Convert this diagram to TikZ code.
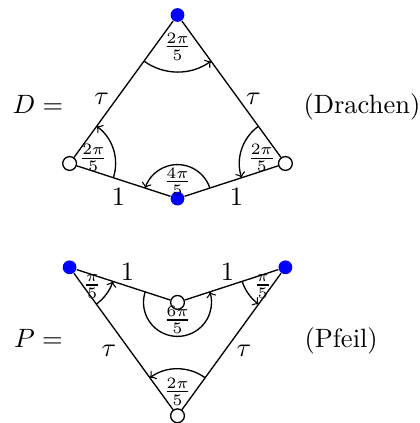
\documentclass[tikz,border=0pt]{standalone}
\usetikzlibrary{calc}
\begin{document}
\begin{tikzpicture}[x=0.3774pt,y=0.3774pt,
  edge/.style={draw=black, line width=0.5pt},
  fv/.style={circle, fill=blue, inner sep=0pt, minimum size=5.2pt},
  ov/.style={circle, draw=black, fill=white, inner sep=0pt, minimum size=5.2pt, line width=0.5pt},
  ang/.style={-{to[scale=1.6]}, line width=0.5pt},
  fr/.style={font=\footnotesize, inner sep=0pt},
  lab/.style={inner sep=0pt}]
\useasboundingbox (0,0) rectangle (419,423);
% ---------- Drachen ----------
\node[fv] (T) at (177.5,408) {};
\node[ov] (L) at (69.6,259.5) {};
\node[ov] (R) at (285.4,259.5) {};
\node[fv] (B) at (177.5,224.4) {};
\draw[edge] (T) -- (L);
\draw[edge] (T) -- (R);
\draw[edge] (L) -- (B);
\draw[edge] (R) -- (B);
\draw[ang] ([shift={(234:57)}]T.center) arc[start angle=234, end angle=306, radius=57];
\draw[ang] ([shift={(-18:46)}]L.center) arc[start angle=-18, end angle=54, radius=46];
\draw[ang] ([shift={(126:46)}]R.center) arc[start angle=126, end angle=198, radius=46];
\draw[ang] ([shift={(18:34)}]B.center) arc[start angle=18, end angle=162, radius=34];
\node[fr] (fT) at (177.5,376.3) {$\frac{2\pi}{5}$};
\node[fr] (fL) at (93.3,264.7) {$\frac{2\pi}{5}$};
\node[fr] (fR) at (261.7,264.7) {$\frac{2\pi}{5}$};
\node[fr] (fB) at (177.5,241.3) {$\frac{4\pi}{5}$};
\node[lab] (tL) at (101.7,324.5) {$\tau$};
\node[lab] (tR) at (253.5,324.5) {$\tau$};
\node[lab] (oL) at (118.5,226.3) {$1$};
\node[lab] (oR) at (236.5,226.3) {$1$};
\node[lab, anchor=base west] (Dname) at (12,309) {$D={}$};
\node[lab, anchor=base west] (Dtext) at (303,309) {(Drachen)};
% ---------- Pfeil ----------
\node[fv] (PL) at (69.6,155.7) {};
\node[fv] (PR) at (285.4,155.7) {};
\node[ov] (M) at (177.5,120.6) {};
\node[ov] (PB) at (177.5,7.2) {};
\draw[edge] (PL) -- (M);
\draw[edge] (PR) -- (M);
\draw[edge] (PL) -- (PB);
\draw[edge] (PR) -- (PB);
\draw[ang] ([shift={(-54:45.5)}]PL.center) arc[start angle=-54, end angle=-18, radius=45.5];
\draw[ang] ([shift={(198:45.5)}]PR.center) arc[start angle=198, end angle=234, radius=45.5];
\draw[ang] ([shift={(162:34)}]M.center) arc[start angle=162, end angle=378, radius=34];
\draw[ang] ([shift={(54:47)}]PB.center) arc[start angle=54, end angle=126, radius=47];
\node[fr] (fPL) at (92.3,136.3) {$\frac{\pi}{5}$};
\node[fr] (fPR) at (262.7,136.3) {$\frac{\pi}{5}$};
\node[fr] (fM) at (177.5,103) {$\frac{6\pi}{5}$};
\node[fr] (fPB) at (177.5,31.3) {$\frac{2\pi}{5}$};
\node[lab] (ptL) at (109,72.2) {$\tau$};
\node[lab] (ptR) at (244,72.2) {$\tau$};
\node[lab] (poL) at (127.5,151.3) {$1$};
\node[lab] (poR) at (227.5,151.3) {$1$};
\node[lab, anchor=base west] (Pname) at (13.5,75.7) {$P={}$};
\node[lab, anchor=base west] (Ptext) at (304,75.7) {(Pfeil)};
\end{tikzpicture}
\end{document}
